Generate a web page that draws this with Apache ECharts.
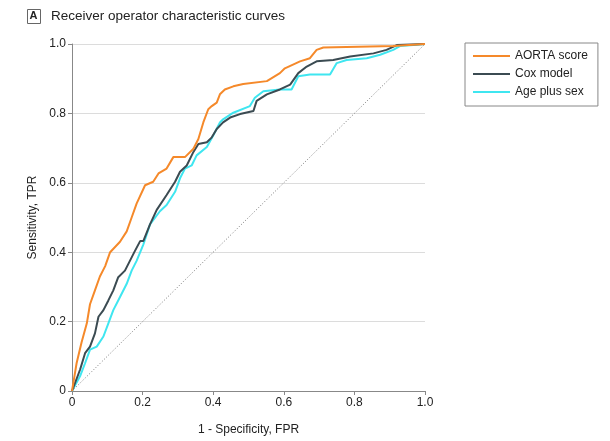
<!DOCTYPE html>
<html>
<head>
<meta charset="utf-8">
<script src="https://cdn.jsdelivr.net/npm/echarts@6/dist/echarts.min.js"></script>
<style>
html,body{margin:0;padding:0;background:#fff;}
#chart{width:610px;height:441px;}
</style>
</head>
<body>
<div id="chart"></div>
<script>
// ---- data ----
var seriesNames = ['AORTA score', 'Cox model', 'Age plus sex'];
var tickValues = [0, 0.2, 0.4, 0.6, 0.8, 1.0];
var tickLabels = ['0', '0.2', '0.4', '0.6', '0.8', '1.0'];

var aortaFpr = [0, 0.0085, 0.013, 0.027, 0.042, 0.051, 0.065, 0.079, 0.094, 0.108, 0.136, 0.155, 0.169, 0.183, 0.207, 0.23, 0.245, 0.268, 0.287, 0.32, 0.344, 0.358, 0.372, 0.386, 0.396, 0.41, 0.419, 0.433, 0.457, 0.485, 0.552, 0.589, 0.603, 0.646, 0.674, 0.693, 0.712, 0.91, 1];
var aortaTpr = [0, 0.052, 0.08, 0.14, 0.195, 0.25, 0.29, 0.33, 0.36, 0.40, 0.43, 0.46, 0.50, 0.54, 0.593, 0.603, 0.627, 0.641, 0.674, 0.674, 0.698, 0.726, 0.774, 0.812, 0.821, 0.831, 0.855, 0.869, 0.878, 0.885, 0.893, 0.916, 0.93, 0.95, 0.959, 0.983, 0.99, 0.994, 1];

var coxFpr = [0, 0.023, 0.037, 0.051, 0.065, 0.075, 0.089, 0.103, 0.117, 0.131, 0.15, 0.164, 0.178, 0.193, 0.202, 0.221, 0.24, 0.268, 0.292, 0.306, 0.325, 0.344, 0.358, 0.382, 0.396, 0.41, 0.428, 0.448, 0.476, 0.514, 0.523, 0.552, 0.589, 0.618, 0.641, 0.665, 0.693, 0.74, 0.788, 0.854, 0.891, 0.92, 1];
var coxTpr = [0, 0.062, 0.109, 0.128, 0.166, 0.214, 0.233, 0.261, 0.29, 0.328, 0.347, 0.375, 0.403, 0.432, 0.432, 0.48, 0.522, 0.565, 0.603, 0.632, 0.65, 0.689, 0.712, 0.717, 0.731, 0.755, 0.774, 0.788, 0.798, 0.807, 0.836, 0.855, 0.869, 0.883, 0.916, 0.935, 0.95, 0.954, 0.964, 0.973, 0.983, 0.997, 1];

var ageFpr = [0, 0.023, 0.037, 0.051, 0.07, 0.089, 0.103, 0.117, 0.136, 0.155, 0.169, 0.183, 0.202, 0.221, 0.249, 0.268, 0.292, 0.306, 0.32, 0.339, 0.353, 0.382, 0.4, 0.419, 0.428, 0.457, 0.504, 0.518, 0.542, 0.589, 0.622, 0.641, 0.674, 0.731, 0.75, 0.778, 0.835, 0.873, 0.91, 0.929, 0.967, 1];
var ageTpr = [0, 0.043, 0.08, 0.119, 0.128, 0.157, 0.195, 0.233, 0.271, 0.309, 0.347, 0.375, 0.422, 0.48, 0.518, 0.536, 0.574, 0.613, 0.641, 0.65, 0.679, 0.703, 0.736, 0.774, 0.783, 0.802, 0.821, 0.845, 0.864, 0.869, 0.869, 0.907, 0.912, 0.912, 0.945, 0.954, 0.959, 0.969, 0.983, 0.994, 0.997, 1];

var chanceFpr = [0, 1];
var chanceTpr = [0, 1];

function zip(a, b) { return a.map(function (v, i) { return [v, b[i]]; }); }
function fmt(v) {
  var i = tickValues.indexOf(Math.round(v * 10) / 10);
  return i >= 0 ? tickLabels[i] : String(v);
}

var font = "'Liberation Sans', Arial, sans-serif";
var chart = echarts.init(document.getElementById('chart'), null, {renderer: 'canvas'});
chart.setOption({
  animation: false,
  textStyle: {fontFamily: font},
  graphic: [
    {type: 'rect', left: 27, top: 9, shape: {width: 13, height: 14}, style: {fill: '#fff', stroke: '#666', lineWidth: 1}},
    {type: 'text', left: 29.5, top: 10.5, style: {text: 'A', font: "bold 11px " + font, fill: '#222'}},
    {type: 'text', left: 51, top: 9.5, style: {text: 'Receiver operator characteristic curves', font: "13.5px " + font, fill: '#222'}}
  ],
  legend: {
    data: seriesNames,
    orient: 'vertical',
    left: 465,
    top: 43,
    width: 133,
    padding: [6, 10, 7, 8],
    itemGap: 4,
    itemWidth: 37,
    itemHeight: 2,
    icon: 'rect',
    borderColor: '#888',
    borderWidth: 1,
    borderRadius: 0,
    textStyle: {fontSize: 12, color: '#222', lineHeight: 14, fontFamily: font, padding: [0, 0, 0, 0]}
  },
  grid: {left: 72, top: 44, width: 353, height: 351, containLabel: false},
  xAxis: {
    type: 'value', min: 0, max: 1, interval: 0.2,
    name: '1 - Specificity, FPR', nameLocation: 'middle', nameGap: 33,
    nameTextStyle: {fontSize: 12, color: '#222', fontFamily: font},
    axisLine: {show: true, lineStyle: {color: '#888', width: 1}},
    axisTick: {show: true, length: 4, inside: false, lineStyle: {color: '#888'}},
    axisLabel: {fontSize: 12, color: '#222', margin: 6, formatter: fmt},
    splitLine: {show: false}
  },
  yAxis: {
    type: 'value', min: 0, max: 1, interval: 0.2,
    name: 'Sensitivity, TPR', nameLocation: 'middle', nameGap: 31,
    nameTextStyle: {fontSize: 12, color: '#222', fontFamily: font},
    axisLine: {show: true, lineStyle: {color: '#888', width: 1}},
    axisTick: {show: true, length: 4, inside: false, lineStyle: {color: '#888'}},
    axisLabel: {fontSize: 12, color: '#222', margin: 6, formatter: fmt},
    splitLine: {show: true, lineStyle: {color: '#dcdcdc', width: 1}}
  },
  series: [
    {name: 'chance', type: 'line', data: zip(chanceFpr, chanceTpr), symbol: 'none', silent: true,
     lineStyle: {color: '#777', width: 1, type: [1, 2]}, z: 1},
    {name: seriesNames[2], type: 'line', data: zip(ageFpr, ageTpr), symbol: 'none',
     lineStyle: {color: '#3fe6f0', width: 2}, itemStyle: {color: '#3fe6f0'}, z: 2},
    {name: seriesNames[1], type: 'line', data: zip(coxFpr, coxTpr), symbol: 'none',
     lineStyle: {color: '#3b4b52', width: 2}, itemStyle: {color: '#3b4b52'}, z: 3},
    {name: seriesNames[0], type: 'line', data: zip(aortaFpr, aortaTpr), symbol: 'none',
     lineStyle: {color: '#f5892a', width: 2}, itemStyle: {color: '#f5892a'}, z: 4}
  ]
});
</script>
</body>
</html>
